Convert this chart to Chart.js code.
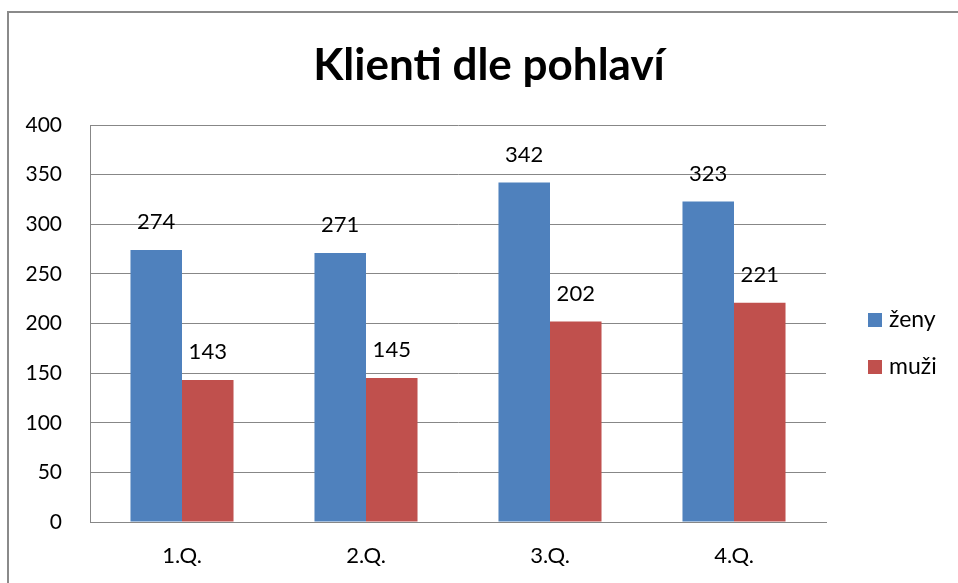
<!DOCTYPE html>
<html>
<head>
<meta charset="utf-8">
<script src="https://cdn.jsdelivr.net/npm/chart.js@4/dist/chart.umd.min.js"></script>
<style>
  html, body { margin: 0; padding: 0; background: #fff; }
  #wrap { width: 958px; height: 583px; }
</style>
</head>
<body>
<div id="wrap"><canvas id="graf-klienti"></canvas></div>
<script>
const kvartaly = ["1.Q.", "2.Q.", "3.Q.", "4.Q."];
const zeny = [274, 271, 342, 323];
const muzi = [143, 145, 202, 221];
const nadpis = "Klienti dle pohlaví";
const pismo = "Lato, 'Liberation Sans', sans-serif";

// ramecek, nadpis, popisky hodnot a legenda
const doplnky = {
  id: "doplnky",
  beforeDraw(chart) {
    const ctx = chart.ctx;
    ctx.save();
    ctx.strokeStyle = "#8a8a8a";
    ctx.lineWidth = 2;
    ctx.strokeRect(8, 12, 1000, 1000);
    ctx.restore();
  },
  afterDraw(chart) {
    const ctx = chart.ctx;
    ctx.save();
    ctx.fillStyle = "#000";
    ctx.textAlign = "center";
    ctx.textBaseline = "middle";
    ctx.font = "bold 44px " + pismo;
    ctx.fillText(nadpis, 489, 66);

    ctx.font = "22px " + pismo;
    chart.data.datasets.forEach((ds, i) => {
      chart.getDatasetMeta(i).data.forEach((bar, j) => {
        ctx.fillText(ds.data[j], bar.x, bar.y - 28);
      });
    });

    ctx.textAlign = "left";
    ctx.font = "23px " + pismo;
    chart.data.datasets.forEach((ds, i) => {
      const y = 320 + i * 47;
      ctx.fillStyle = ds.backgroundColor;
      ctx.fillRect(868, y - 7, 14, 14);
      ctx.fillStyle = "#000";
      ctx.fillText(ds.label, 889, y);
    });
    ctx.restore();
  }
};

new Chart(document.getElementById("graf-klienti"), {
  type: "bar",
  data: {
    labels: kvartaly,
    datasets: [
      {
        label: "ženy",
        backgroundColor: "#4F81BD",
        data: zeny,
        barPercentage: 1,
        categoryPercentage: 0.56,
      },
      {
        label: "muži",
        backgroundColor: "#C0504D",
        data: muzi,
        barPercentage: 1,
        categoryPercentage: 0.56,
      },
    ],
  },
  options: {
    responsive: true,
    maintainAspectRatio: false,
    animation: false,
    layout: {
      padding: { left: 0, top: 125, right: 132, bottom: 0 },
    },
    plugins: {
      legend: { display: false },
      title: { display: false },
      tooltip: { enabled: false },
    },
    scales: {
      x: {
        grid: { display: false, drawTicks: false },
        border: { color: "#878787", width: 1 },
        ticks: { color: "#000", font: { size: 22, family: pismo }, padding: 21 },
        afterFit: (s) => { s.height = 61; },
      },
      y: {
        min: 0,
        max: 400,
        ticks: { stepSize: 50, color: "#000", font: { size: 21, family: pismo }, padding: 28 },
        grid: { color: "#878787", drawTicks: false },
        border: { color: "#878787", width: 1 },
        afterFit: (s) => { s.width = 90; },
      },
    },
  },
  plugins: [doplnky],
});
</script>
</body>
</html>
